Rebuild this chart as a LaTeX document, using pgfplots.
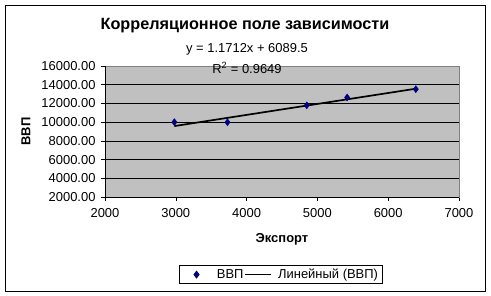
\documentclass[border=0pt]{standalone}
\usepackage{fontspec}
\setmainfont{Liberation Sans}
\usepackage{pgfplots}
\pgfplotsset{compat=1.18}
\definecolor{navyblue}{RGB}{0,0,128}
\definecolor{plotgray}{RGB}{192,192,192}
\begin{document}
\begin{tikzpicture}
\useasboundingbox (0,0) rectangle (491bp,296bp);
\draw[black, line width=0.8bp] (5bp,5bp) rectangle (485bp,291bp);
\begin{axis}[
  at={(105bp,99bp)}, anchor=south west,
  scale only axis, width=354bp, height=131bp,
  xmin=2000, xmax=7000, ymin=2000, ymax=16000,
  xtick={2000,3000,...,7000},
  ytick={2000,4000,...,16000},
  scaled ticks=false,
  /pgf/number format/assume math mode=true,
  /pgf/number format/1000 sep={},
  xticklabel style={font=\fontsize{13}{15}\selectfont, yshift=-4bp},
  yticklabel style={font=\fontsize{13}{15}\selectfont, xshift=-2bp, /pgf/number format/fixed, /pgf/number format/fixed zerofill, /pgf/number format/precision=2},
  tick align=outside, major tick length=4bp,
  tick style={black, line width=0.6bp},
  xtick pos=bottom, ytick pos=left,
  ymajorgrids, grid style={black, line width=0.7bp},
  axis background/.style={fill=plotgray},
  axis line style={draw=gray, line width=0.6bp},
  legend style={at={(0.496,-0.592)}, anchor=center, draw=black, line width=0.7bp,
    font=\fontsize{13}{15}\selectfont, legend columns=-1,
    nodes={inner xsep=1bp},
    /tikz/every even column/.append style={column sep=0bp},
    /tikz/every odd column/.append style={column sep=5bp},
    inner xsep=3bp, inner ysep=1.5bp},
  clip=false,
]
\draw[black, line width=0.8bp] (rel axis cs:0,1) -- (rel axis cs:0,0) -- (rel axis cs:1,0);
\addplot[only marks, mark=diamond*, mark size=3.5bp, color=navyblue,
  legend image code/.code={\draw[white, opacity=0] (0bp,0bp) -- (28bp,0bp); \draw[navyblue, fill=navyblue] plot[mark=diamond*, mark size=3.5bp] coordinates {(14bp,0bp)};}]
  coordinates {(2980,10000) (3730,9990) (4850,11800) (5420,12640) (6390,13520)};
\addlegendentry{ВВП}
\addplot[black, line width=1.7bp, mark=none,
  legend image code/.code={\draw[black, line width=1.7bp] (0bp,0bp) -- (26bp,0bp);}]
  coordinates {(2980,9580) (6390,13573)};
\addlegendentry{Линейный (ВВП)}
\end{axis}
\node[font=\bfseries\fontsize{16.3}{18}\selectfont] at (245bp,270bp) {Корреляционное поле зависимости};
\node[font=\fontsize{13}{15}\selectfont] at (247bp,247bp) {y = 1.1712x + 6089.5};
\node[font=\fontsize{13}{15}\selectfont] at (247bp,228bp) {R\textsuperscript{2} = 0.9649};
\node[font=\bfseries\fontsize{13}{15}\selectfont] at (282bp,57bp) {Экспорт};
\node[font=\bfseries\fontsize{13}{15}\selectfont, rotate=90] at (26bp,164.5bp) {ВВП};
\end{tikzpicture}
\end{document}
